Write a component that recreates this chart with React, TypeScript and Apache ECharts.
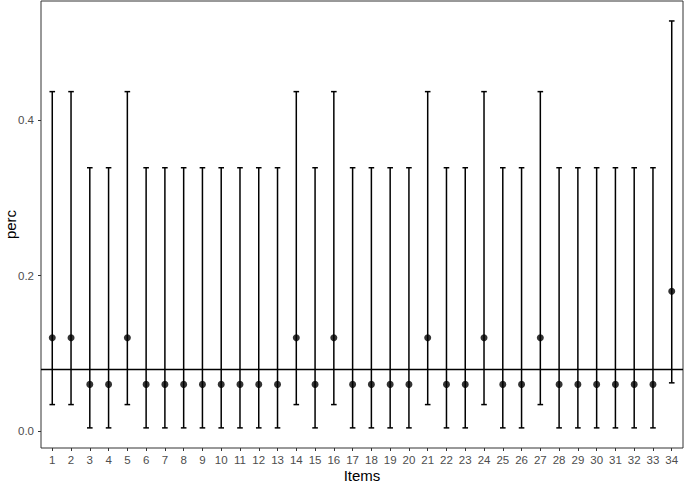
import React, { useEffect, useRef } from "react";
import * as echarts from "echarts";

const items: number[] = Array.from({ length: 34 }, (_, i) => i + 1);
const perc: number[] = [
  0.12, 0.12, 0.06, 0.06, 0.12, 0.06, 0.06, 0.06, 0.06, 0.06,
  0.06, 0.06, 0.06, 0.12, 0.06, 0.12, 0.06, 0.06, 0.06, 0.06,
  0.12, 0.06, 0.06, 0.12, 0.06, 0.06, 0.12, 0.06, 0.06, 0.06,
  0.06, 0.06, 0.06, 0.18,
];
const lower: number[] = [
  0.034, 0.034, 0.004, 0.004, 0.034, 0.004, 0.004, 0.004, 0.004, 0.004,
  0.004, 0.004, 0.004, 0.034, 0.004, 0.034, 0.004, 0.004, 0.004, 0.004,
  0.034, 0.004, 0.004, 0.034, 0.004, 0.004, 0.034, 0.004, 0.004, 0.004,
  0.004, 0.004, 0.004, 0.062,
];
const upper: number[] = [
  0.437, 0.437, 0.339, 0.339, 0.437, 0.339, 0.339, 0.339, 0.339, 0.339,
  0.339, 0.339, 0.339, 0.437, 0.339, 0.437, 0.339, 0.339, 0.339, 0.339,
  0.437, 0.339, 0.339, 0.437, 0.339, 0.339, 0.437, 0.339, 0.339, 0.339,
  0.339, 0.339, 0.339, 0.528,
];
const refLine = 0.0778;
const yTicks: number[] = [0, 0.2, 0.4];

export default function App() {
  const ref = useRef<HTMLDivElement>(null);
  useEffect(() => {
    if (!ref.current) return;
    const chart = echarts.init(ref.current, null, { renderer: "svg" });
    const font = "Liberation Sans, Arial, sans-serif";
    chart.setOption({
      animation: false,
      backgroundColor: "#ffffff",
      grid: {
        left: 41,
        right: 2,
        top: 1,
        bottom: 36,
        containLabel: false,
        outerBoundsMode: "none",
        show: true,
        borderColor: "#333333",
        borderWidth: 1,
        backgroundColor: "transparent",
      },
      xAxis: {
        type: "value",
        min: 0.4,
        max: 34.6,
        name: "Items",
        nameLocation: "middle",
        nameGap: 20,
        nameMoveOverlap: false,
        nameTextStyle: { fontSize: 15, color: "#000", fontFamily: font },
        axisLine: { show: false, onZero: false },
        splitLine: { show: false },
        axisTick: {
          show: true,
          length: 3,
          customValues: items,
          lineStyle: { color: "#333333" },
        },
        axisLabel: {
          customValues: items,
          margin: 6,
          fontSize: 11.5,
          color: "#4d4d4d",
          fontFamily: font,
          formatter: (v: number) => String(Math.round(v)),
        },
      },
      yAxis: {
        type: "value",
        min: -0.0219,
        max: 0.5537,
        name: "perc",
        nameLocation: "middle",
        nameGap: 23,
        nameMoveOverlap: false,
        nameTextStyle: { fontSize: 15, color: "#000", fontFamily: font },
        axisLine: { show: false, onZero: false },
        splitLine: { show: false },
        axisTick: {
          show: true,
          length: 3,
          customValues: yTicks,
          lineStyle: { color: "#333333" },
        },
        axisLabel: {
          customValues: yTicks,
          margin: 7,
          fontSize: 11.5,
          color: "#4d4d4d",
          fontFamily: font,
          formatter: (v: number) => v.toFixed(1),
        },
      },
      series: [
        {
          type: "custom",
          data: items.map((x, i) => [x, lower[i], upper[i]]),
          renderItem: (params: any, api: any) => {
            const x = api.value(0);
            const lo = api.coord([x, api.value(1)]);
            const hi = api.coord([x, api.value(2)]);
            const hw = 2.8;
            const style = { stroke: "#000", lineWidth: 1.5 };
            return {
              type: "group",
              children: [
                { type: "line", shape: { x1: lo[0], y1: lo[1], x2: hi[0], y2: hi[1] }, style },
                { type: "line", shape: { x1: lo[0] - hw, y1: lo[1], x2: lo[0] + hw, y2: lo[1] }, style },
                { type: "line", shape: { x1: hi[0] - hw, y1: hi[1], x2: hi[0] + hw, y2: hi[1] }, style },
              ],
            };
          },
          z: 2,
        },
        {
          type: "scatter",
          data: items.map((x, i) => [x, perc[i]]),
          symbol: "circle",
          symbolSize: 7,
          itemStyle: { color: "#000" },
          z: 3,
          markLine: {
            silent: true,
            symbol: ["none", "none"],
            label: { show: false },
            lineStyle: { color: "#000", width: 1.3, type: "solid" },
            data: [{ yAxis: refLine }],
          },
        },
      ],
    });
    return () => chart.dispose();
  }, []);
  return (
    <div
      ref={ref}
      style={{ position: "fixed", left: 0, top: 0, width: 685, height: 484 }}
    />
  );
}
